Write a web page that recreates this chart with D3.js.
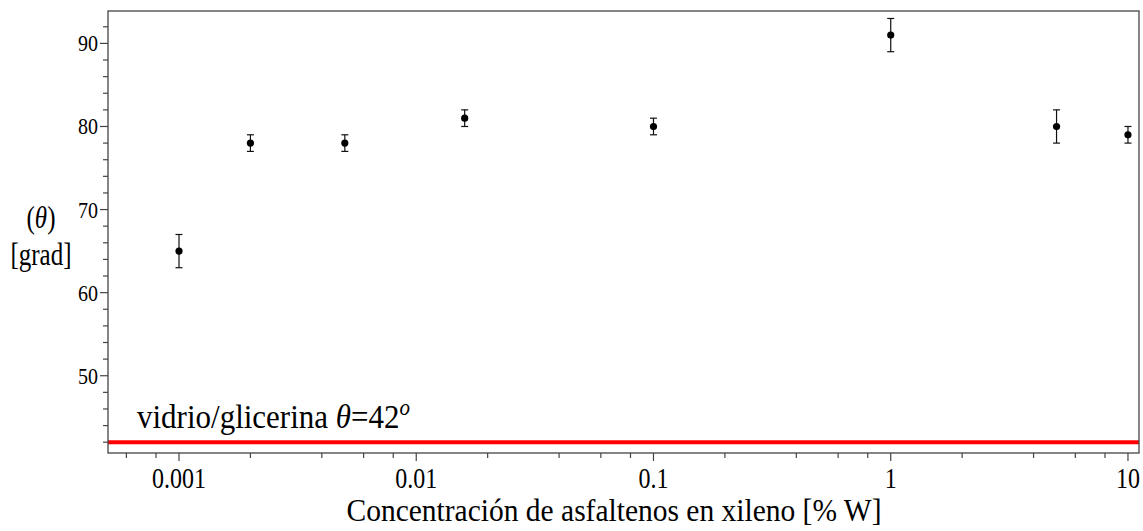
<!DOCTYPE html>
<html>
<head>
<meta charset="utf-8">
<script src="https://cdn.jsdelivr.net/npm/d3@7"></script>
<style>
  body { margin: 0; background: #fff; }
  text { font-family: "Liberation Serif", "Times New Roman", serif; fill: #000; }
</style>
</head>
<body>
<div id="chart"></div>
<script>
// Data
const concentrations = [0.001, 0.002, 0.005, 0.016, 0.1, 1, 5, 10];
const angles = [65, 78, 78, 81, 80, 91, 80, 79];
const errors = [2, 1, 1, 1, 1, 2, 2, 1];
const xTickValues = [0.001, 0.01, 0.1, 1, 10];
const xTickLabels = ["0.001", "0.01", "0.1", "1", "10"];
const yTickValues = [50, 60, 70, 80, 90];
const refAngle = 42;

const W = 1143, H = 531;
const margin = { top: 11, right: 4, bottom: 78, left: 108 };
const width = W - margin.left - margin.right;
const height = H - margin.top - margin.bottom;

const x = d3.scaleLog()
  .domain([5.02e-4, 11.13])
  .range([0, width]);

const y = d3.scaleLinear()
  .domain([40.7, 93.9])
  .range([height, 0]);

const svg = d3.select("#chart")
  .append("svg")
  .attr("width", W)
  .attr("height", H);

const g = svg.append("g")
  .attr("transform", "translate(" + margin.left + "," + margin.top + ")");

// minor ticks at 2,4,6,8 of each decade, every 2 degrees on y
const xMinor = [];
for (let e = -4; e <= 1; e++) {
  [2, 4, 6, 8].forEach(m => {
    const v = m * Math.pow(10, e);
    if (v > x.domain()[0] && v < x.domain()[1]) xMinor.push(v);
  });
}
const yMinor = d3.range(42, 94, 2).filter(v => !yTickValues.includes(v));

const tickColor = "#444";

// x ticks
g.selectAll(".xminor")
  .data(xMinor)
  .enter().append("line")
  .attr("x1", d => x(d)).attr("x2", d => x(d))
  .attr("y1", height).attr("y2", height + 5)
  .attr("stroke", tickColor).attr("stroke-width", 1.2);

g.selectAll(".xmajor")
  .data(xTickValues)
  .enter().append("line")
  .attr("x1", d => x(d)).attr("x2", d => x(d))
  .attr("y1", height).attr("y2", height + 8)
  .attr("stroke", tickColor).attr("stroke-width", 1.2);

g.selectAll(".xlabel")
  .data(xTickValues)
  .enter().append("text")
  .attr("transform", d => "translate(" + x(d) + "," + (height + 35) + ") scale(1,1.25)")
  .attr("text-anchor", "middle")
  .style("font-size", "24px")
  .text((d, i) => xTickLabels[i]);

// y ticks
g.selectAll(".yminor")
  .data(yMinor)
  .enter().append("line")
  .attr("x1", -5).attr("x2", 0)
  .attr("y1", d => y(d)).attr("y2", d => y(d))
  .attr("stroke", tickColor).attr("stroke-width", 1.2);

g.selectAll(".ymajor")
  .data(yTickValues)
  .enter().append("line")
  .attr("x1", -8).attr("x2", 0)
  .attr("y1", d => y(d)).attr("y2", d => y(d))
  .attr("stroke", tickColor).attr("stroke-width", 1.2);

g.selectAll(".ylabel")
  .data(yTickValues)
  .enter().append("text")
  .attr("transform", d => "translate(-10," + (y(d) + 8) + ") scale(1,1.2)")
  .attr("text-anchor", "end")
  .style("font-size", "20px")
  .text(d => d);

// reference line for glass/glycerine
g.append("line")
  .attr("x1", 0).attr("x2", width)
  .attr("y1", y(refAngle)).attr("y2", y(refAngle))
  .attr("stroke", "#ff0000")
  .attr("stroke-width", 4);

const note = g.append("text")
  .attr("transform", "translate(" + (137 - margin.left) + "," + (y(refAngle) - 14) + ") scale(1,1.1)")
  .style("font-size", "31px");
note.append("tspan").text("vidrio/glicerina ");
note.append("tspan").style("font-style", "italic").text("θ");
note.append("tspan").text("=" + refAngle);
note.append("tspan").style("font-style", "italic").style("font-size", "21px")
  .attr("dy", -12).text("o");

// error bars and points
const pts = concentrations.map((c, i) => ({ c: c, a: angles[i], e: errors[i] }));

const bars = g.selectAll(".err")
  .data(pts)
  .enter().append("g")
  .attr("stroke", "#111")
  .attr("stroke-width", 1.2);

bars.append("line")
  .attr("x1", d => x(d.c)).attr("x2", d => x(d.c))
  .attr("y1", d => y(d.a - d.e)).attr("y2", d => y(d.a + d.e));
bars.append("line")
  .attr("x1", d => x(d.c) - 3.5).attr("x2", d => x(d.c) + 3.5)
  .attr("y1", d => y(d.a + d.e)).attr("y2", d => y(d.a + d.e));
bars.append("line")
  .attr("x1", d => x(d.c) - 3.5).attr("x2", d => x(d.c) + 3.5)
  .attr("y1", d => y(d.a - d.e)).attr("y2", d => y(d.a - d.e));

g.selectAll(".dot")
  .data(pts)
  .enter().append("circle")
  .attr("cx", d => x(d.c))
  .attr("cy", d => y(d.a))
  .attr("r", 3.6)
  .attr("fill", "#000");

// frame
g.append("rect")
  .attr("width", width)
  .attr("height", height)
  .attr("fill", "none")
  .attr("stroke", tickColor)
  .attr("stroke-width", 1.3);

// axis titles
svg.append("text")
  .attr("transform", "translate(614,521) scale(1,1.05)")
  .attr("text-anchor", "middle")
  .style("font-size", "29.5px")
  .text("Concentración de asfaltenos en xileno [% W]");

const yt = svg.append("text")
  .attr("transform", "translate(41,228) scale(1,1.25)")
  .attr("text-anchor", "middle")
  .style("font-size", "25px");
yt.append("tspan").text("(");
yt.append("tspan").style("font-style", "italic").text("θ");
yt.append("tspan").text(")");

svg.append("text")
  .attr("transform", "translate(41,265) scale(1,1.25)")
  .attr("text-anchor", "middle")
  .style("font-size", "25px")
  .text("[grad]");
</script>
</body>
</html>
